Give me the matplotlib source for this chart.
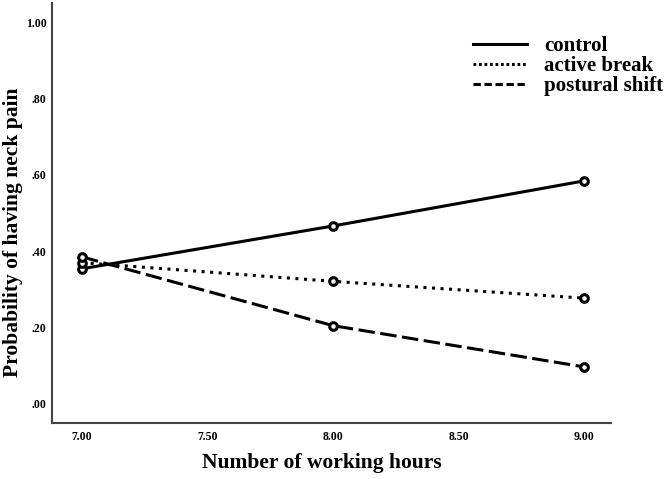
import matplotlib
matplotlib.use("Agg")
import matplotlib.pyplot as plt

hours = [7.0, 8.0, 9.0]
control = [0.354, 0.466, 0.584]
active_break = [0.370, 0.321, 0.277]
postural_shift = [0.385, 0.205, 0.097]

x_ticks = [7.0, 7.5, 8.0, 8.5, 9.0]
y_ticks = [0.0, 0.2, 0.4, 0.6, 0.8, 1.0]

plt.rcParams['font.family'] = ['Liberation Serif', 'DejaVu Serif']

W, H = 671, 479
fig = plt.figure(figsize=(W / 100, H / 100), dpi=100)
# axes box in pixels: left 52, right 611, top 3, bottom 423
ax = fig.add_axes([52 / W, 1 - 423 / H, 559 / W, 420 / H])

series = [
    (control, '-', 'control'),
    (active_break, (0, (1, 1.8)), 'active break'),
    (postural_shift, (0, (5.4, 1.8)), 'postural shift'),
]
for vals, ls, name in series:
    ax.plot(hours, vals, color='black', linestyle=ls, linewidth=2.2, label=name,
            marker='o', markersize=5.5, markerfacecolor='white',
            markeredgecolor='black', markeredgewidth=2.2)

ax.set_xlim(6.88, 9.108)
ax.set_ylim(-0.05, 1.05)
ax.set_xticks(x_ticks)
ax.set_xticklabels(['%.2f' % t for t in x_ticks])
ax.set_yticks(y_ticks)
ax.set_yticklabels(['1.00' if t == 1 else ('%.2f' % t)[1:] for t in y_ticks])
ax.tick_params(length=0, labelsize=8.5)
ax.tick_params(axis='x', pad=6)
ax.tick_params(axis='y', pad=4)
for lab in ax.get_xticklabels() + ax.get_yticklabels():
    lab.set_fontweight('bold')
for spine in ['top', 'right']:
    ax.spines[spine].set_visible(False)
for spine in ['left', 'bottom']:
    ax.spines[spine].set_color('#444444')
    ax.spines[spine].set_linewidth(1.5)

fig.text(322 / W, 1 - 463 / H, 'Number of working hours', fontsize=15.5,
         fontweight='bold', ha='center', va='center')
fig.text(13 / W, 1 - 232 / H, 'Probability of having neck pain', fontsize=15.5,
         fontweight='bold', ha='center', va='center', rotation=90)

handles, labels = ax.get_legend_handles_labels()
leg = fig.legend(handles, labels, loc='upper left',
                 bbox_to_anchor=(473 / W, 1 - 36 / H), frameon=False,
                 prop={'size': 15, 'weight': 'bold'}, handlelength=2.6,
                 labelspacing=0.0, handletextpad=0.8, borderpad=0,
                 borderaxespad=0)
# legend keys use a finer pattern than the plotted lines
legend_styles = ['-', (0, (0.9, 0.9)), (0, (2.4, 1.2))]
for h, ls in zip(leg.legend_handles, legend_styles):
    h.set_marker('')
    h.set_linestyle(ls)

fig.savefig('out.png', dpi=100)
